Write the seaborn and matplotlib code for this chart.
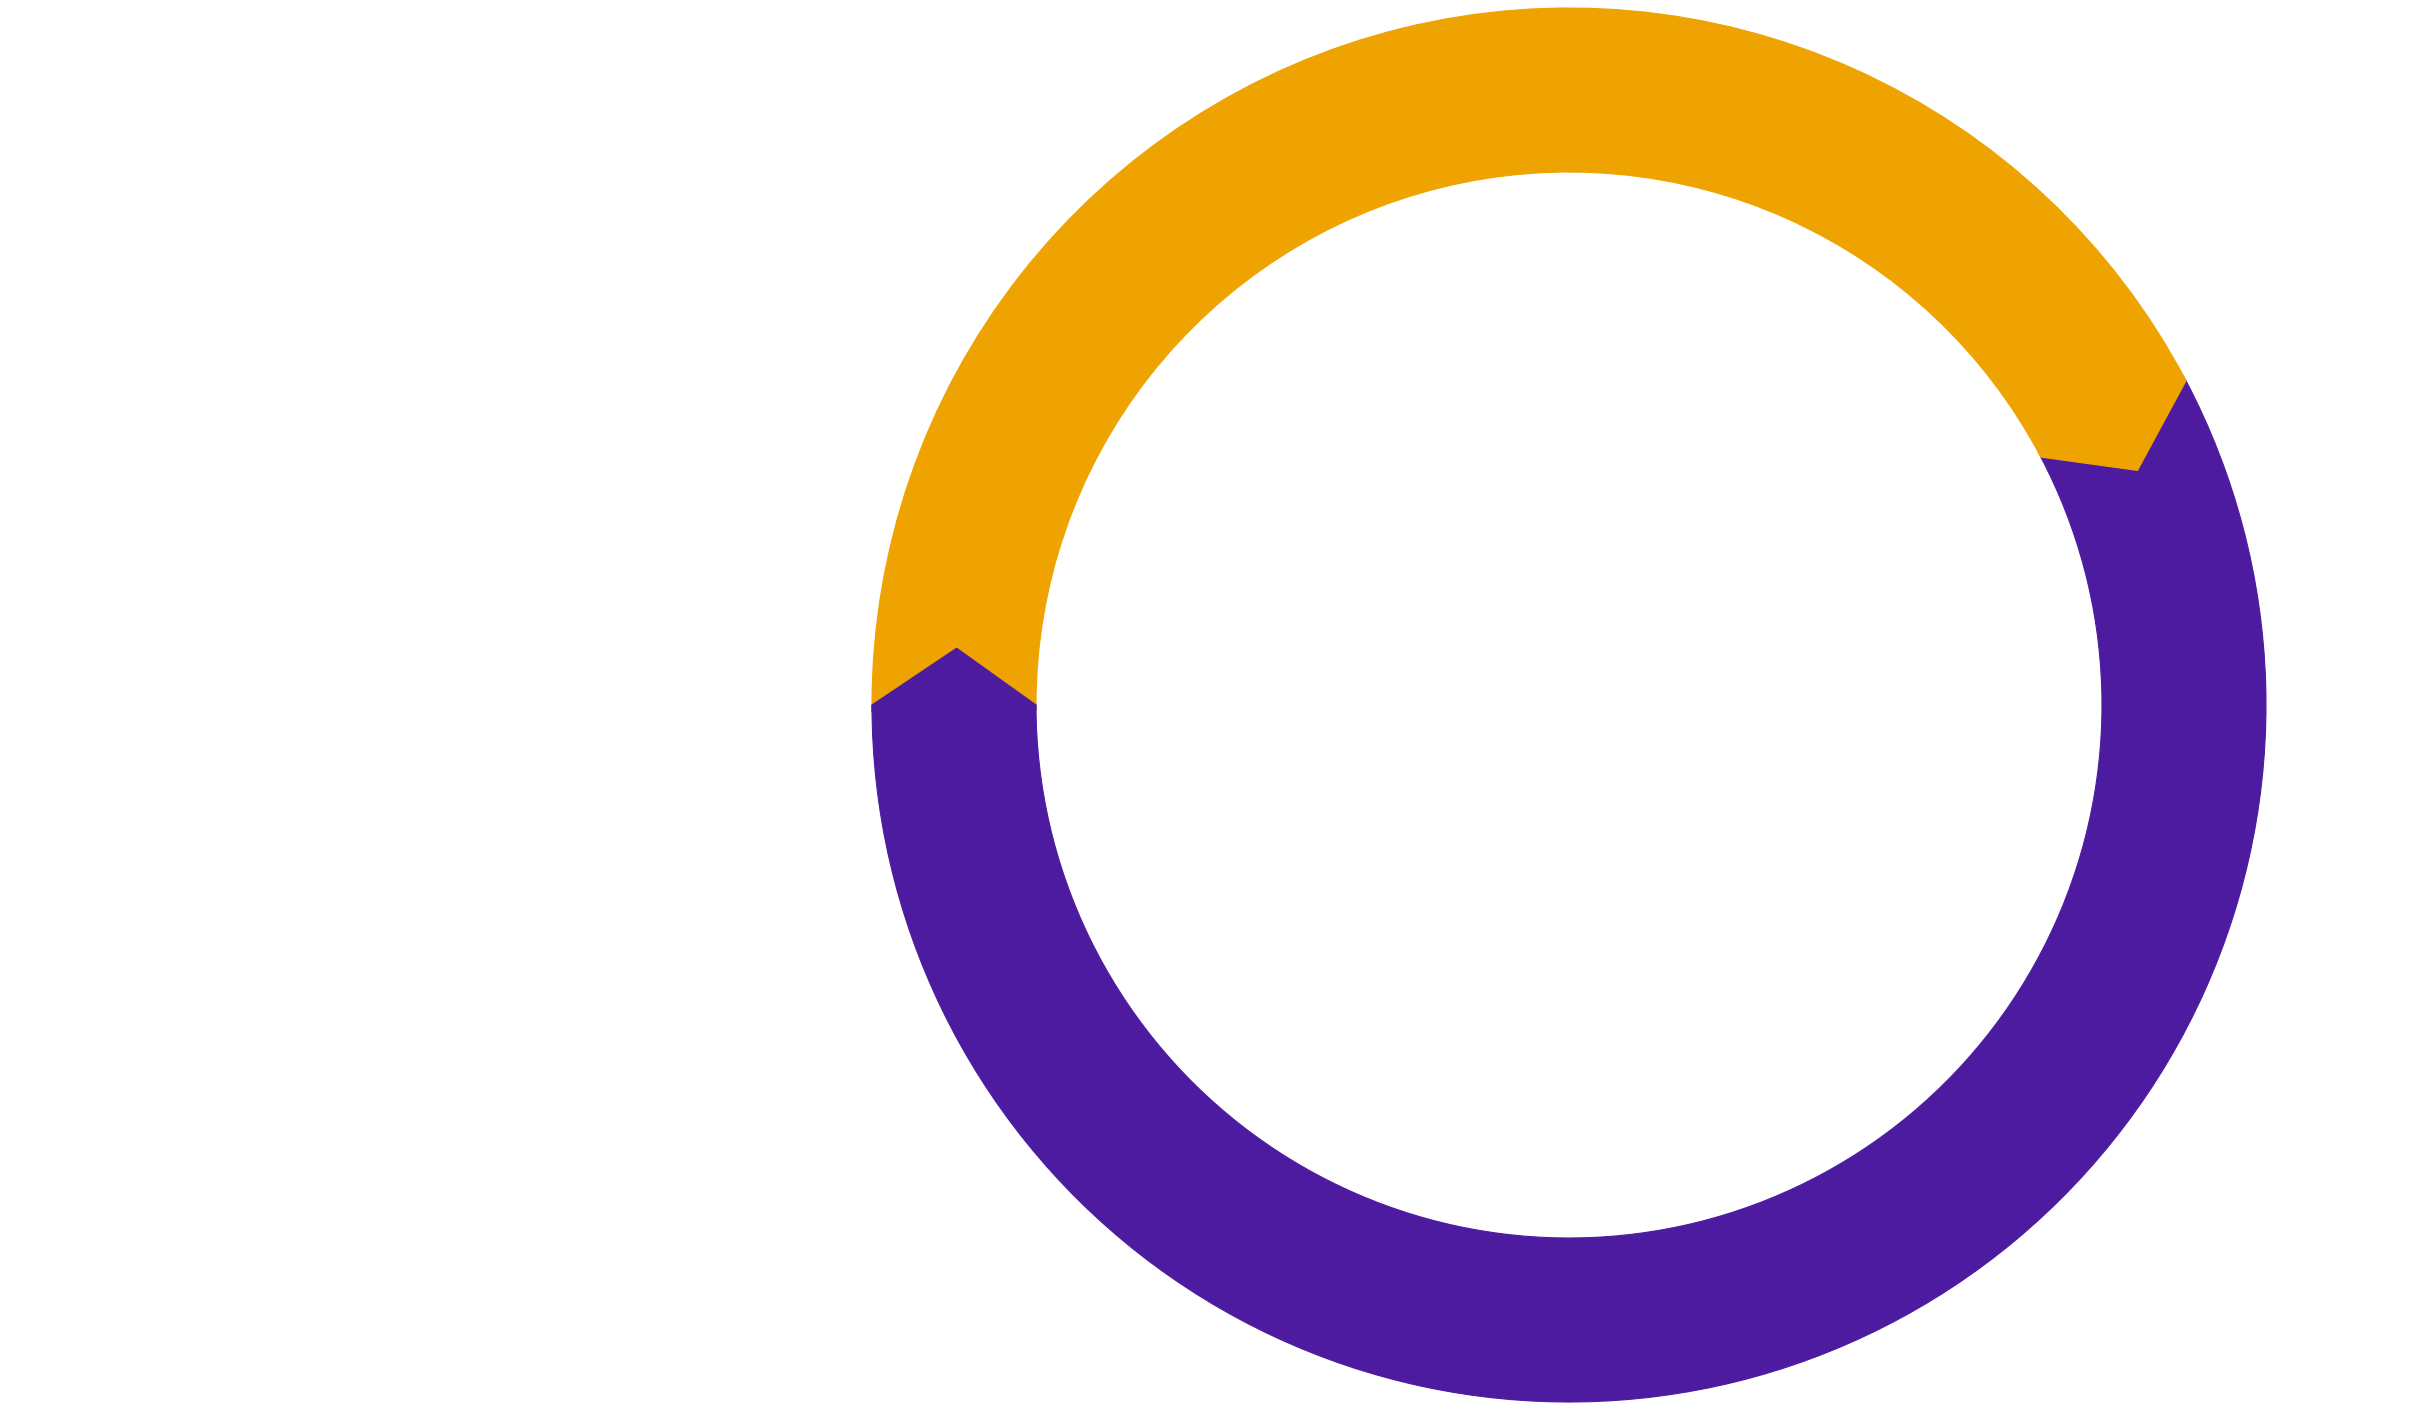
import numpy as np
import matplotlib
matplotlib.use("Agg")
import matplotlib.pyplot as plt
import seaborn as sns
from matplotlib.patches import Polygon

# Data
categories = ["A", "B"]
values = [42.3, 57.7]
colors = ["#EFA300", "#4C1B9F"]

sns.set_theme(style="white")

W, H = 2429, 1410
fig = plt.figure(figsize=(W / 100, H / 100), dpi=100)
ax = fig.add_axes([0, 0, 1, 1])

cx, cy = 1569, 705
r_out, r_in = 697, 533
start = 180.0
tip_deg = 5.3

wedges, _ = ax.pie(values, colors=colors, center=(cx, cy), radius=r_out,
                   startangle=start, counterclock=False,
                   wedgeprops=dict(width=r_out - r_in, linewidth=0.8),
                   normalize=True)
for w, c in zip(wedges, colors):
    w.set_edgecolor(c)

# arrow tips: each segment ends with a chevron pointing clockwise into the next one
total = sum(values)
ang = start
r_mid = (r_out + r_in) / 2
for v, c in zip(values, colors):
    ang = ang - 360.0 * v / total
    a = np.deg2rad(ang)
    at = np.deg2rad(ang - tip_deg)
    pts = [
        (cx + r_out * np.cos(a), cy + r_out * np.sin(a)),
        (cx + r_mid * np.cos(at), cy + r_mid * np.sin(at)),
        (cx + r_in * np.cos(a), cy + r_in * np.sin(a)),
        (cx + r_in * np.cos(a + 0.01), cy + r_in * np.sin(a + 0.01)),
        (cx + r_out * np.cos(a + 0.01), cy + r_out * np.sin(a + 0.01)),
    ]
    ax.add_patch(Polygon(pts, closed=True, facecolor=c, edgecolor=c, linewidth=0.8))

ax.set_xlim(0, W)
ax.set_ylim(0, H)
ax.set_aspect("equal")
ax.axis("off")
fig.savefig("out.png", dpi=100, facecolor="white")
